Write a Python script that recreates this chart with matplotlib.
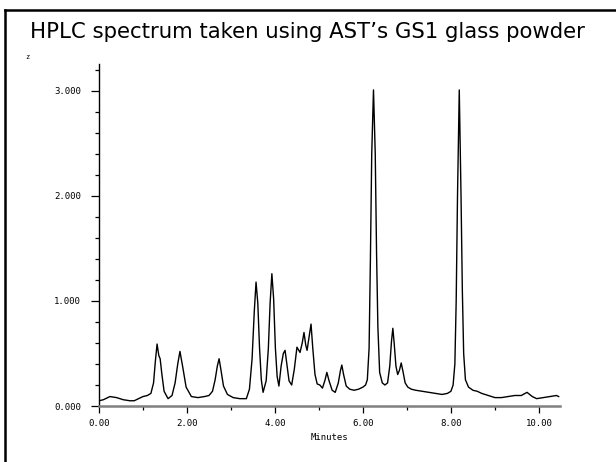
import matplotlib
matplotlib.use("Agg")
import matplotlib.pyplot as plt
from matplotlib.lines import Line2D
from matplotlib.ticker import MultipleLocator

# chromatogram trace (minutes, signal)
minutes = [0.00, 0.10, 0.25, 0.40, 0.55, 0.70, 0.80, 0.90, 1.00, 1.10, 1.18,
           1.24, 1.28, 1.32, 1.36, 1.39, 1.43, 1.48, 1.57,
           1.66, 1.73, 1.79, 1.84, 1.90, 1.98, 2.10, 2.25,
           2.40, 2.50, 2.58,
           2.64, 2.69, 2.73, 2.77, 2.83, 2.92, 3.05, 3.20, 3.35,
           3.42, 3.48, 3.53, 3.57, 3.61, 3.65, 3.69, 3.73,
           3.80, 3.85, 3.89, 3.93, 3.97, 4.01, 4.05, 4.09,
           4.14, 4.19, 4.23, 4.27, 4.32, 4.38,
           4.44, 4.50, 4.57, 4.62, 4.66, 4.70, 4.73, 4.77, 4.82, 4.86, 4.91, 4.96, 5.02,
           5.08, 5.14, 5.18, 5.23, 5.30, 5.37,
           5.44, 5.49, 5.52, 5.56, 5.62, 5.70, 5.80, 5.90, 6.00,
           6.06, 6.10, 6.14, 6.17, 6.20, 6.24, 6.28, 6.31, 6.34, 6.38, 6.44, 6.50,
           6.56, 6.61, 6.65, 6.68, 6.71, 6.75, 6.79,
           6.83, 6.87, 6.91, 6.96, 7.02,
           7.10, 7.20, 7.35, 7.50, 7.65, 7.80, 7.92,
           8.00, 8.05, 8.09, 8.12, 8.15, 8.19, 8.23, 8.26, 8.29, 8.33, 8.40, 8.50,
           8.60, 8.70, 8.85, 9.00, 9.15, 9.30, 9.45, 9.60, 9.73, 9.85, 9.95,
           10.10, 10.25, 10.40, 10.45]
signal = [0.05, 0.06, 0.09, 0.08, 0.06, 0.05, 0.05, 0.07, 0.09, 0.10, 0.12,
          0.22, 0.42, 0.59, 0.48, 0.45, 0.30, 0.14, 0.07,
          0.10, 0.22, 0.40, 0.52, 0.38, 0.18, 0.09, 0.08,
          0.09, 0.10, 0.14,
          0.25, 0.38, 0.45, 0.35, 0.19, 0.11, 0.08, 0.07, 0.07,
          0.16, 0.45, 0.90, 1.18, 0.98, 0.55, 0.25, 0.13,
          0.24, 0.55, 0.98, 1.26, 1.02, 0.55, 0.28, 0.19,
          0.38, 0.50, 0.53, 0.40, 0.24, 0.20,
          0.35, 0.56, 0.51, 0.60, 0.70, 0.58, 0.53, 0.64, 0.78, 0.55, 0.30, 0.21, 0.20,
          0.17, 0.25, 0.32, 0.24, 0.15, 0.13,
          0.22, 0.34, 0.39, 0.30, 0.19, 0.16, 0.15, 0.16, 0.18,
          0.20, 0.25, 0.55, 1.40, 2.40, 3.01, 2.40, 1.45, 0.75, 0.32, 0.22, 0.20,
          0.22, 0.38, 0.62, 0.74, 0.60, 0.38, 0.30,
          0.34, 0.41, 0.33, 0.22, 0.18,
          0.16, 0.15, 0.14, 0.13, 0.12, 0.11, 0.12,
          0.14, 0.20, 0.40, 1.00, 2.00, 3.01, 2.00, 1.10, 0.50, 0.25, 0.18, 0.15,
          0.14, 0.12, 0.10, 0.08, 0.08, 0.09, 0.10, 0.10, 0.13, 0.09, 0.07,
          0.08, 0.09, 0.10, 0.09]

x_ticks = [0, 2, 4, 6, 8, 10]
x_labels = ["0.00", "2.00", "4.00", "6.00", "8.00", "10.00"]
y_ticks = [0, 1, 2, 3]
y_labels = ["0.000", "1.000", "2.000", "3.000"]

W, H = 616, 462
fig = plt.figure(figsize=(6.16, 4.62), dpi=100)
ax = fig.add_axes([99 / W, 1 - 406 / H, (560 - 99) / W, (406 - 64) / H])

ax.plot(minutes, signal, color="black", linewidth=1.0)
ax.set_xlim(0, 10.48)
ax.set_ylim(0, 3.257)

mono = "DejaVu Sans Mono"
ax.set_xticks(x_ticks)
ax.set_xticklabels(x_labels, fontsize=6.5, family=mono)
ax.set_yticks(y_ticks)
ax.set_yticklabels(y_labels, fontsize=6.5, family=mono)
ax.xaxis.set_minor_locator(MultipleLocator(1))
ax.yaxis.set_minor_locator(MultipleLocator(0.2))
ax.tick_params(axis="x", which="major", length=5, width=0.9, pad=4)
ax.tick_params(axis="x", which="minor", length=3, width=0.9)
ax.tick_params(axis="y", which="major", length=6, width=0.9, pad=7)
ax.tick_params(axis="y", which="minor", length=3, width=0.9)

for s in ["top", "right"]:
    ax.spines[s].set_visible(False)
ax.spines["left"].set_linewidth(1.0)
ax.spines["bottom"].set_color("#808080")
ax.spines["bottom"].set_linewidth(1.8)

ax.set_xlabel("Minutes", fontsize=6.5, family=mono, labelpad=4)

# slide frame
fig.add_artist(Line2D([5 / W, 5 / W], [0, 1 - 10 / H], color="black", lw=1.8))
fig.add_artist(Line2D([5 / W, 1], [1 - 10 / H, 1 - 10 / H], color="black", lw=1.8))

fig.text(30 / W, 1 - 38 / H, "HPLC spectrum taken using AST\u2019s GS1 glass powder",
         fontsize=15.3, va="baseline", ha="left")
fig.text(27 / W, 1 - 57 / H, "z", fontsize=5, family=mono, ha="center", va="center")

fig.savefig("out.png", dpi=100)
